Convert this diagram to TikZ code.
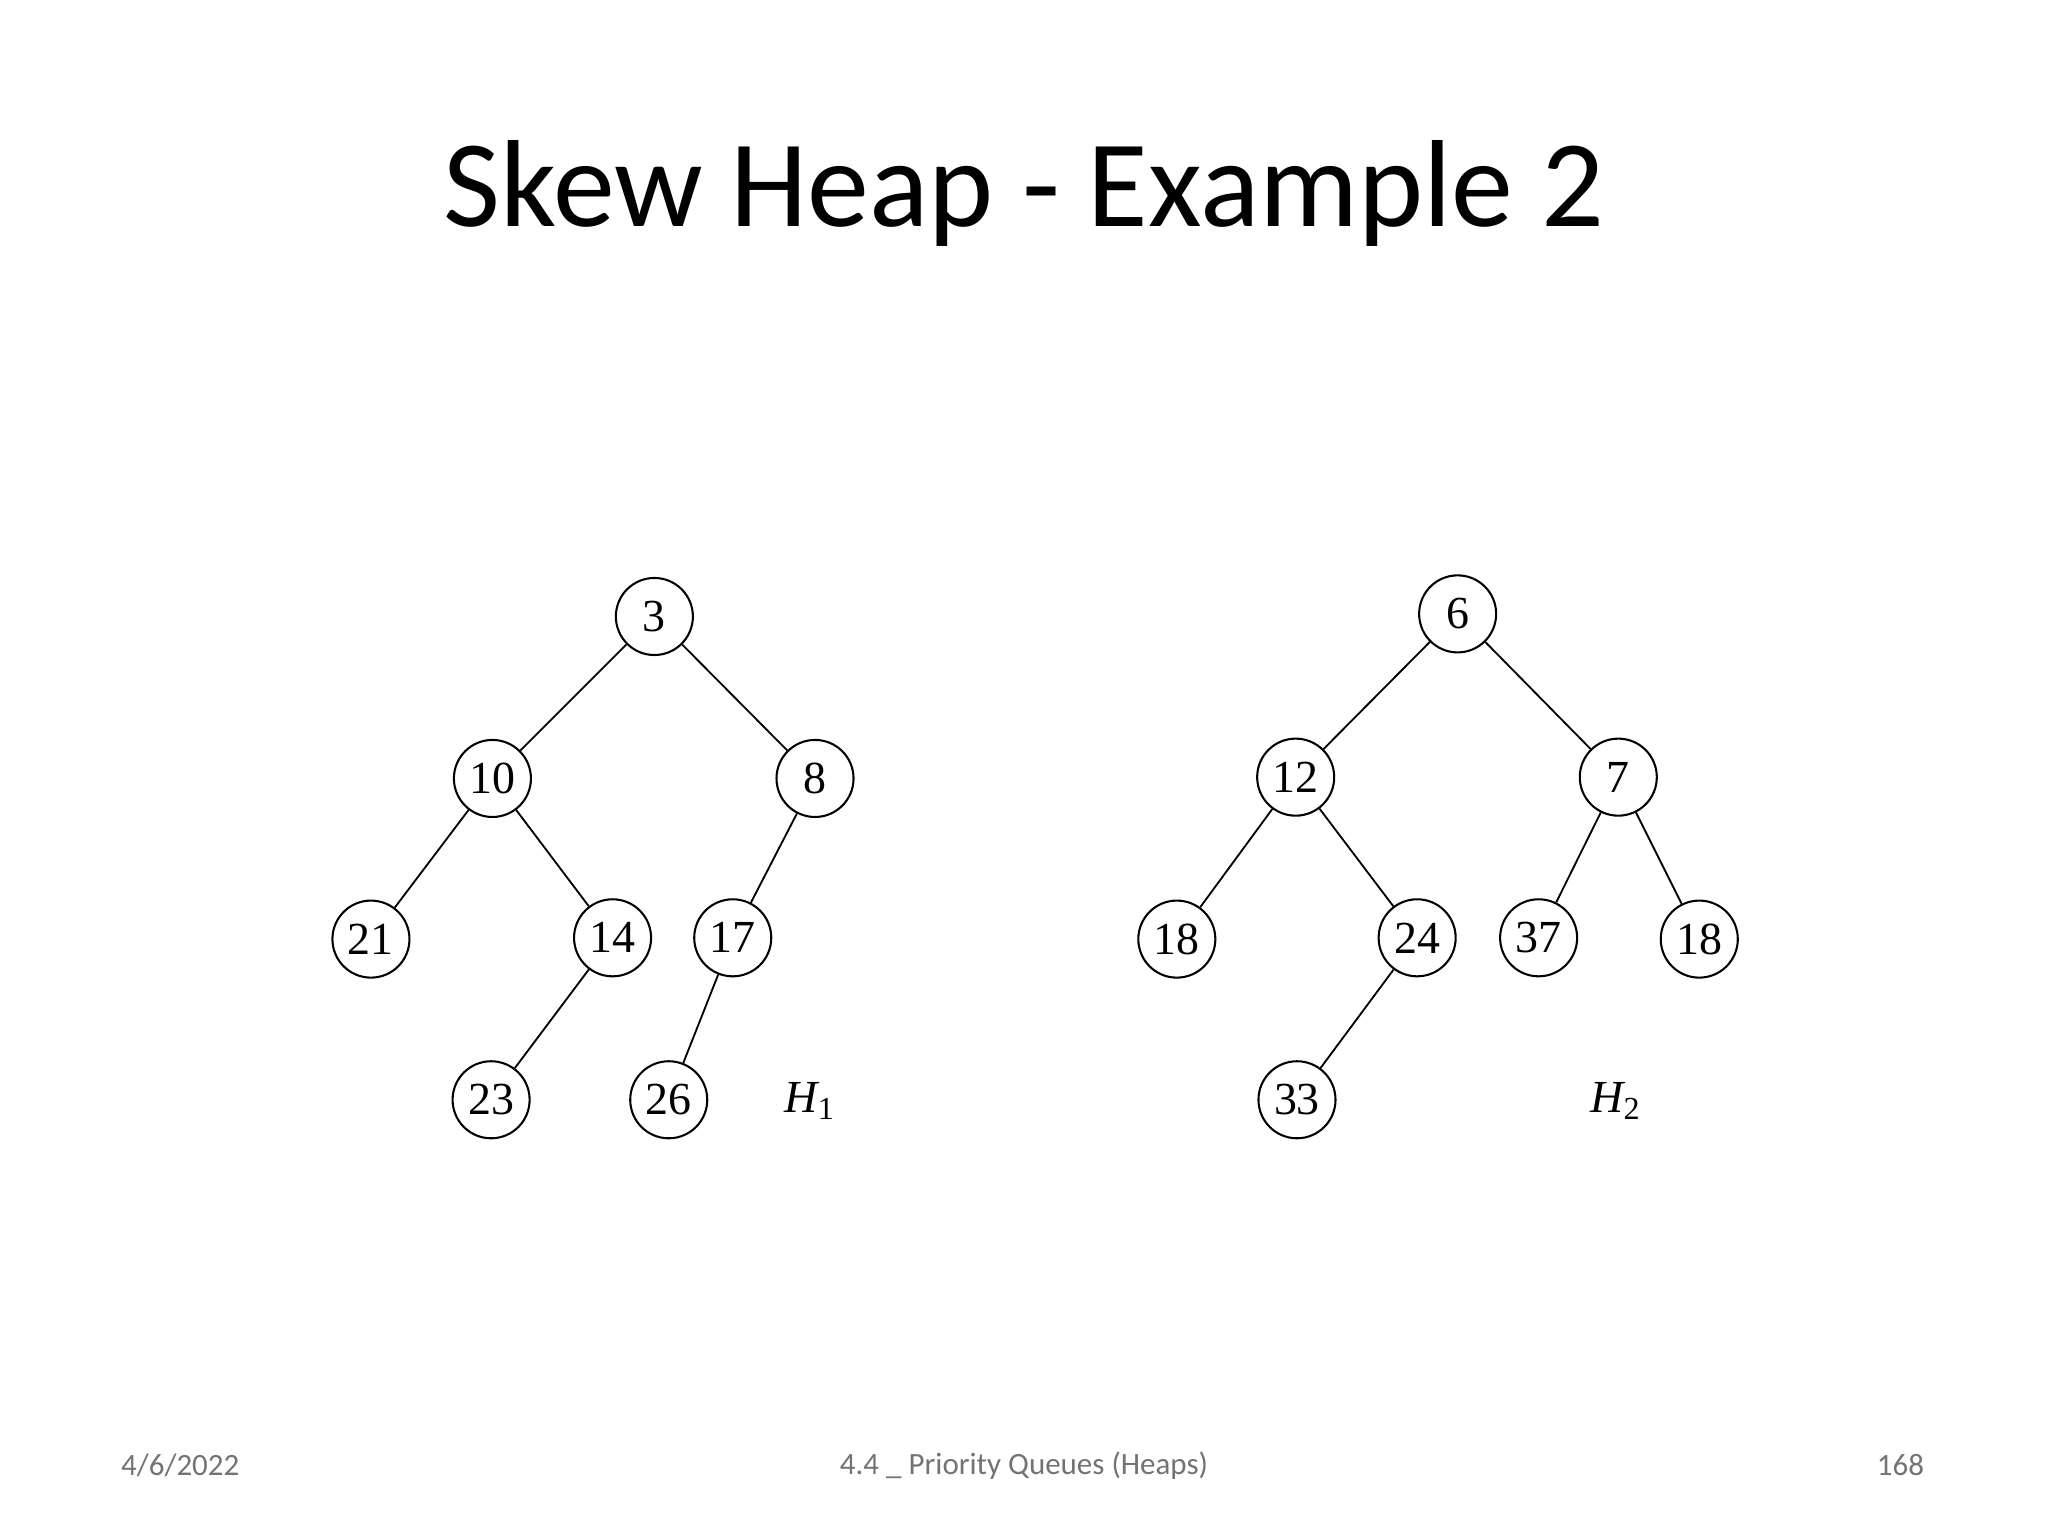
\documentclass[tikz,border=0pt]{standalone}
\usepackage{fontspec}
\setmainfont{Carlito}
\newfontfamily\numfont{Liberation Serif}
\begin{document}
\begin{tikzpicture}[x=0.02cm,y=-0.02cm,
  hn/.style={circle,draw,line width=0.9pt,minimum size=1.18cm,inner sep=0pt,font=\numfont\fontsize{20}{22}\selectfont},
  ed/.style={line width=0.8pt},
  foot/.style={font=\fontsize{13.5}{15}\selectfont,text=black!55}]
\useasboundingbox (0,0) rectangle (1568,1176);
\node at (784,148) {\fontsize{54}{60}\selectfont Skew Heap - Example 2};
% H1
\node[hn] (a3) at (501,472) {3};
\node[hn] (a10) at (377,596) {10};
\node[hn] (a8) at (624,596) {8};
\node[hn] (a21) at (284,719) {21};
\node[hn] (a14) at (469,718) {14};
\node[hn] (a17) at (561,718) {17};
\node[hn] (a23) at (376,842) {23};
\node[hn] (a26) at (512,842) {26};
\node (h1) at (620,843) {\numfont\fontsize{20}{22}\selectfont\itshape H\textsubscript{\upshape 1}};
\draw[ed] (a3)--(a10) (a3)--(a8) (a10)--(a21) (a10)--(a14) (a8)--(a17) (a14)--(a23) (a17)--(a26);
% H2
\node[hn] (b6) at (1116,470) {6};
\node[hn] (b12) at (992,595) {12};
\node[hn] (b7) at (1239,595) {7};
\node[hn] (b18) at (901,719) {18};
\node[hn] (b24) at (1085,718) {24};
\node[hn] (b37) at (1178,718) {37};
\node[hn] (b18b) at (1301,719) {18};
\node[hn] (b33) at (993,842) {33};
\node (h2) at (1237,843) {\numfont\fontsize{20}{22}\selectfont\itshape H\textsubscript{\upshape 2}};
\draw[ed] (b6)--(b12) (b6)--(b7) (b12)--(b18) (b12)--(b24) (b7)--(b37) (b7)--(b18b) (b24)--(b33);
% footer
\node[foot] (f1) at (138,1122) {4/6/2022};
\node[foot] (f2) at (784,1122) {4.4 \_ Priority Queues (Heaps)};
\node[foot] (f3) at (1455,1122) {168};
\end{tikzpicture}
\end{document}
